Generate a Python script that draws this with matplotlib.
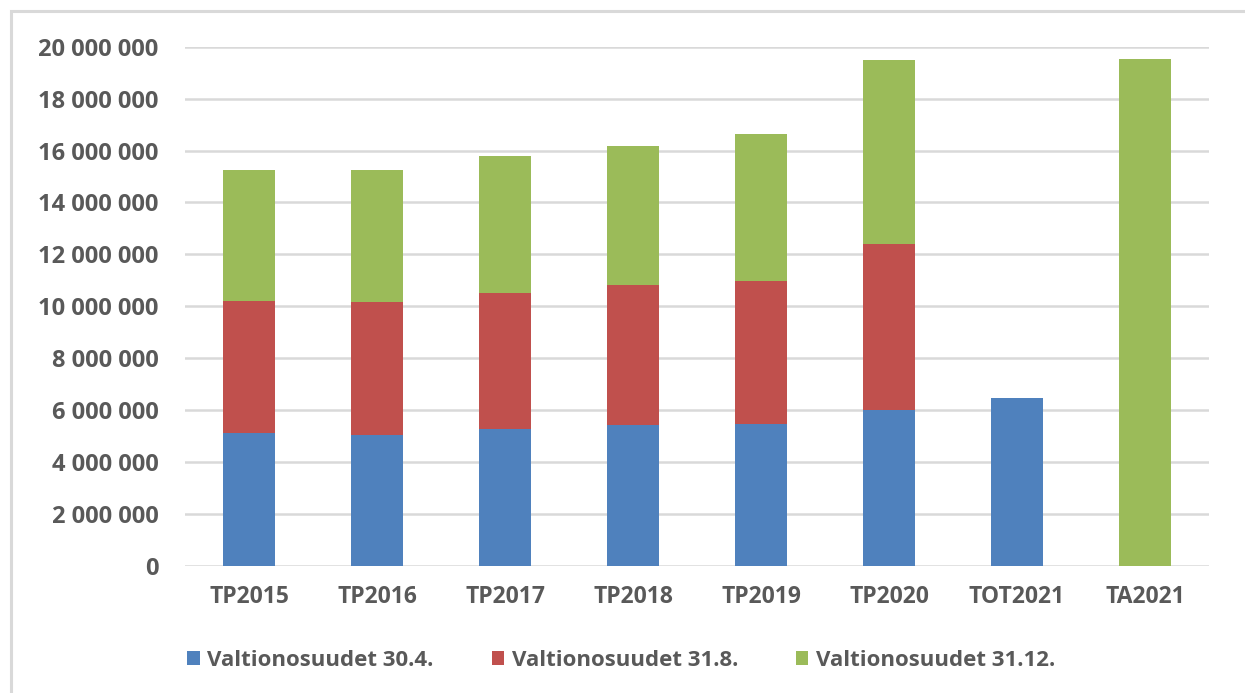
import matplotlib
matplotlib.use("Agg")
import matplotlib.pyplot as plt
from matplotlib.patches import Rectangle, Patch
from matplotlib.ticker import FuncFormatter, MultipleLocator
import numpy as np

# data (euros)
categories = ["TP2015", "TP2016", "TP2017", "TP2018", "TP2019", "TP2020", "TOT2021", "TA2021"]
vos_30_4 = [5110000, 5050000, 5290000, 5420000, 5470000, 6010000, 6470000, 0]
vos_31_8 = [5110000, 5110000, 5220000, 5400000, 5520000, 6410000, 0, 0]
vos_31_12 = [5040000, 5100000, 5290000, 5360000, 5630000, 7050000, 0, 19530000]
series_names = ["Valtionosuudet 30.4.", "Valtionosuudet 31.8.", "Valtionosuudet 31.12."]

colors = ["#4F81BD", "#C0504D", "#9BBB59"]
text_color = "#595959"
grid_color = "#D9D9D9"

plt.rcParams["font.family"] = ["Open Sans", "DejaVu Sans"]

fig = plt.figure(figsize=(12.45, 6.93), dpi=100)
ax = fig.add_axes([185 / 1245, 1 - 566 / 693, 1024 / 1245, (566 - 46.7) / 693])

x = np.arange(len(categories))
bottom = np.zeros(len(categories))
for vals, col in zip([vos_30_4, vos_31_8, vos_31_12], colors):
    vals = np.array(vals, dtype=float)
    ax.bar(x, vals, width=0.4, bottom=bottom, color=col, zorder=3)
    bottom += vals

ax.set_xlim(-0.5, len(categories) - 0.5)
ax.set_ylim(0, 20000000)
ax.yaxis.set_major_locator(MultipleLocator(2000000))
ax.yaxis.set_major_formatter(FuncFormatter(lambda v, p: f"{v:,.0f}".replace(",", " ")))
ax.set_xticks(x)
ax.set_xticklabels(categories)

ax.grid(axis="y", color=grid_color, linewidth=1.8, zorder=0)
for s in ax.spines.values():
    s.set_visible(False)
ax.tick_params(axis="both", length=0, labelcolor=text_color)
ax.tick_params(axis="y", pad=19, labelsize=17)
ax.tick_params(axis="x", pad=14, labelsize=16.5)
for lab in ax.get_xticklabels() + ax.get_yticklabels():
    lab.set_fontweight("bold")

handles = [Patch(facecolor=c, edgecolor="none") for c in colors]
leg = fig.legend(handles, series_names, loc="center", bbox_to_anchor=(0.499, 0.047),
                 ncol=3, frameon=False, fontsize=16, handlelength=0.55, handleheight=0.55,
                 handletextpad=0.35, columnspacing=2.6)
for t in leg.get_texts():
    t.set_color(text_color)
    t.set_fontweight("bold")

# light frame around the chart (only top and left visible in the image)
fig.patches.append(Rectangle((11 / 1245, -0.05), 1.2, 1 - 11 / 693 + 0.05,
                             transform=fig.transFigure, fill=False,
                             edgecolor=grid_color, linewidth=2.2))

fig.savefig("out.png", dpi=100)
